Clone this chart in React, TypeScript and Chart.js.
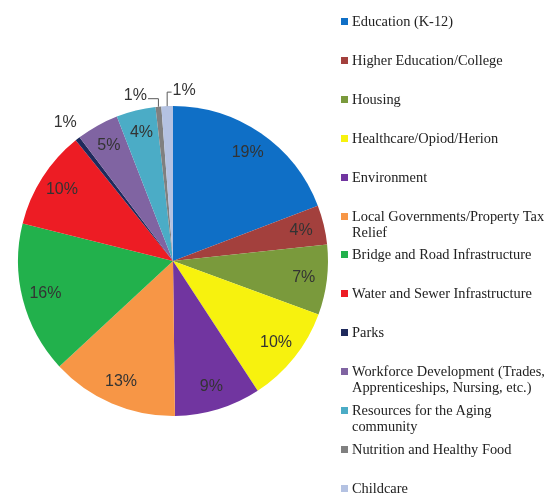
import React, { useEffect, useRef } from "react";
import { Chart, registerables } from "chart.js";

Chart.register(...registerables);

const categories = [
  "Education (K-12)",
  "Higher Education/College",
  "Housing",
  "Healthcare/Opiod/Herion",
  "Environment",
  "Local Governments/Property Tax Relief",
  "Bridge and Road Infrastructure",
  "Water and Sewer Infrastructure",
  "Parks",
  "Workforce Development (Trades, Apprenticeships, Nursing, etc.)",
  "Resources for the Aging community",
  "Nutrition and Healthy Food",
  "Childcare",
];

const values = [19.2, 4.1, 7.3, 10.2, 9.0, 13.3, 15.8, 10.3, 0.5, 4.4, 4.1, 0.6, 1.2];

const percentLabels = ["19%", "4%", "7%", "10%", "9%", "13%", "16%", "10%", "1%", "5%", "4%", "1%", "1%"];

const colors = [
  "#0F6FC6",
  "#A3403D",
  "#7A9A3C",
  "#F7F20E",
  "#7135A0",
  "#F79646",
  "#22B14C",
  "#ED1C24",
  "#1F2A5C",
  "#8064A2",
  "#4BACC6",
  "#808080",
  "#B4C2E2",
];

const sliceLabelPlugin = {
  id: "sliceLabels",
  afterDatasetsDraw(chart: any, _args: any, opts: any) {
    const ctx = chart.ctx;
    const meta = chart.getDatasetMeta(0);
    ctx.save();
    ctx.font = opts.font;
    ctx.fillStyle = opts.color;
    ctx.textAlign = "center";
    ctx.textBaseline = "middle";
    meta.data.forEach((arc: any, i: number) => {
      const p = arc.getProps(["startAngle", "endAngle", "outerRadius", "x", "y"], true);
      const mid = (p.startAngle + p.endAngle) / 2;
      const cx = Math.cos(mid);
      const cy = Math.sin(mid);
      const text = percentLabels[i];
      const o = opts.outside[i];
      if (!o) {
        const r = p.outerRadius * opts.inset;
        ctx.fillText(text, p.x + cx * r, p.y + cy * r);
      } else if (o.leader) {
        const ex = p.x + cx * p.outerRadius;
        const ey = p.y + cy * p.outerRadius;
        const lx = ex + o.dx;
        const ly = ey + o.dy;
        const w = ctx.measureText(text).width;
        const side = Math.sign(o.dx);
        const endX = lx - side * (w / 2 + 1);
        const lineY = ly + o.ly;
        ctx.save();
        ctx.strokeStyle = opts.leaderColor;
        ctx.lineWidth = 1;
        ctx.beginPath();
        ctx.moveTo(ex, ey);
        ctx.lineTo(ex, lineY);
        ctx.lineTo(endX, lineY);
        ctx.stroke();
        ctx.restore();
        ctx.fillText(text, lx, ly);
      } else {
        const r = p.outerRadius * o.r;
        ctx.fillText(text, p.x + cx * r, p.y + cy * r);
      }
    });
    ctx.restore();
  },
};

export default function App() {
  const canvasRef = useRef<HTMLCanvasElement | null>(null);

  useEffect(() => {
    const canvas = canvasRef.current;
    if (!canvas) return;
    const chart = new Chart(canvas, {
      type: "pie",
      data: {
        labels: categories,
        datasets: [
          {
            data: values,
            backgroundColor: colors,
            borderWidth: 0,
          },
        ],
      },
      options: {
        responsive: false,
        animation: false,
        events: [],
        layout: { padding: { left: 18, right: 231, top: 106, bottom: 81 } },
        plugins: {
          legend: { display: false },
          tooltip: { enabled: false },
          sliceLabels: {
            font: '16px "Liberation Sans", Arial, sans-serif',
            color: "#333333",
            inset: 0.85,
            leaderColor: "#595959",
            outside: {
              8: { r: 1.13 },
              11: { leader: true, dx: -23, dy: -11, ly: 3 },
              12: { leader: true, dx: 17, dy: -16, ly: 2 },
            },
          },
        } as any,
      },
      plugins: [sliceLabelPlugin],
    });
    return () => chart.destroy();
  }, []);

  return (
    <div style={{ position: "absolute", left: 0, top: 0, width: 559, height: 497, background: "#fff" }}>
      <canvas ref={canvasRef} width={559} height={497} style={{ position: "absolute", left: 0, top: 0 }} />
      {categories.map((c, i) => (
        <div
          key={c}
          style={{
            position: "absolute",
            left: 341,
            top: 21 + i * 38.9 - 8,
            width: 215,
            display: "flex",
            alignItems: "flex-start",
            fontFamily: '"Liberation Serif", "Times New Roman", serif',
            fontSize: "14.4px",
            lineHeight: "16px",
            color: "#222",
          }}
        >
          <span
            style={{
              display: "inline-block",
              width: 7,
              height: 7,
              marginTop: 5,
              marginRight: 4,
              flex: "0 0 auto",
              background: colors[i],
            }}
          />
          <span style={{ flex: "1 1 auto" }}>{c}</span>
        </div>
      ))}
    </div>
  );
}
